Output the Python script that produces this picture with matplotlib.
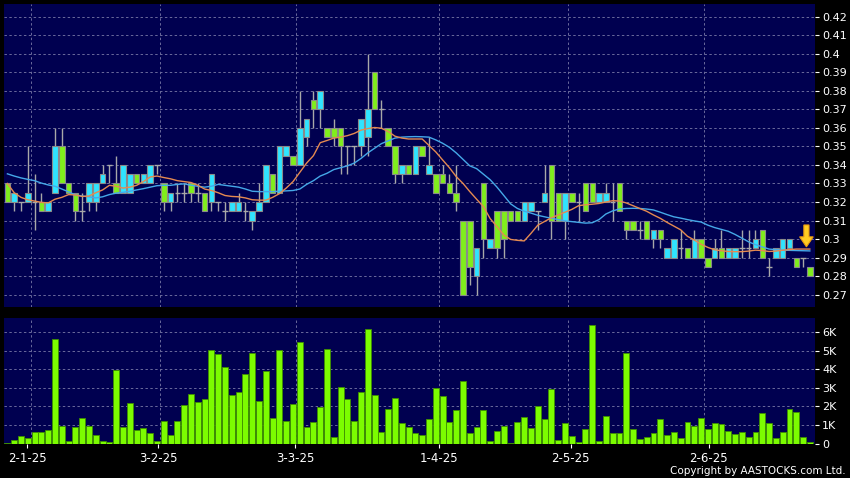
import matplotlib
matplotlib.use("Agg")
import matplotlib.pyplot as plt
from matplotlib.patches import Polygon

# ---------------- data ----------------
opens = [0.33, 0.32, 0.32, 0.32, 0.32, 0.32, 0.315, 0.325, 0.35, 0.33,
         0.325, 0.315, 0.32, 0.32, 0.33, 0.34, 0.33, 0.325, 0.325, 0.335,
         0.33, 0.33, 0.34, 0.33, 0.32, 0.325, 0.325, 0.33, 0.325, 0.325,
         0.32, 0.32, 0.315, 0.315, 0.315, 0.315, 0.31, 0.315, 0.32, 0.335,
         0.325, 0.345, 0.345, 0.34, 0.355, 0.375, 0.37, 0.36, 0.36, 0.36,
         0.35, 0.35, 0.35, 0.355, 0.39, 0.37, 0.36, 0.35, 0.335, 0.34,
         0.335, 0.35, 0.335, 0.335, 0.335, 0.33, 0.325, 0.31, 0.31, 0.28,
         0.33, 0.295, 0.315, 0.315, 0.315, 0.315, 0.31, 0.315, 0.315, 0.32,
         0.34, 0.325, 0.31, 0.325, 0.32, 0.33, 0.33, 0.32, 0.32, 0.32,
         0.33, 0.31, 0.31, 0.305, 0.31, 0.30, 0.305, 0.29, 0.29, 0.295,
         0.295, 0.29, 0.30, 0.29, 0.29, 0.295, 0.29, 0.29, 0.295, 0.295,
         0.295, 0.305, 0.285, 0.29, 0.29, 0.295, 0.29, 0.29, 0.285]
highs = [0.33, 0.325, 0.32, 0.35, 0.335, 0.325, 0.32, 0.36, 0.36, 0.33,
         0.325, 0.325, 0.33, 0.33, 0.34, 0.34, 0.345, 0.34, 0.335, 0.335,
         0.335, 0.34, 0.34, 0.33, 0.325, 0.33, 0.33, 0.33, 0.33, 0.325,
         0.335, 0.32, 0.32, 0.32, 0.325, 0.32, 0.315, 0.33, 0.34, 0.335,
         0.35, 0.35, 0.345, 0.38, 0.365, 0.38, 0.38, 0.36, 0.365, 0.36,
         0.35, 0.35, 0.365, 0.40, 0.39, 0.375, 0.36, 0.35, 0.34, 0.34,
         0.35, 0.35, 0.355, 0.335, 0.34, 0.335, 0.34, 0.31, 0.31, 0.295,
         0.33, 0.30, 0.315, 0.315, 0.315, 0.315, 0.32, 0.32, 0.315, 0.34,
         0.34, 0.325, 0.325, 0.325, 0.325, 0.33, 0.33, 0.325, 0.33, 0.33,
         0.33, 0.31, 0.31, 0.31, 0.31, 0.305, 0.305, 0.295, 0.30, 0.305,
         0.295, 0.305, 0.30, 0.29, 0.30, 0.305, 0.295, 0.295, 0.305, 0.305,
         0.305, 0.305, 0.29, 0.295, 0.30, 0.30, 0.29, 0.29, 0.285]
lows = [0.32, 0.315, 0.315, 0.32, 0.305, 0.315, 0.315, 0.325, 0.33, 0.325,
        0.31, 0.31, 0.315, 0.315, 0.33, 0.33, 0.325, 0.325, 0.325, 0.33,
        0.33, 0.33, 0.335, 0.315, 0.315, 0.32, 0.32, 0.32, 0.32, 0.315,
        0.315, 0.315, 0.31, 0.315, 0.315, 0.31, 0.305, 0.315, 0.32, 0.325,
        0.325, 0.345, 0.34, 0.34, 0.35, 0.36, 0.36, 0.355, 0.35, 0.335,
        0.335, 0.34, 0.345, 0.345, 0.37, 0.36, 0.35, 0.33, 0.33, 0.335,
        0.335, 0.345, 0.335, 0.325, 0.33, 0.325, 0.315, 0.27, 0.275, 0.27,
        0.29, 0.295, 0.29, 0.29, 0.31, 0.31, 0.31, 0.315, 0.305, 0.32,
        0.30, 0.31, 0.30, 0.32, 0.31, 0.315, 0.32, 0.32, 0.32, 0.31,
        0.315, 0.30, 0.305, 0.30, 0.30, 0.295, 0.295, 0.29, 0.29, 0.29,
        0.29, 0.29, 0.29, 0.285, 0.29, 0.29, 0.29, 0.29, 0.29, 0.29,
        0.295, 0.29, 0.28, 0.29, 0.29, 0.295, 0.285, 0.285, 0.28]
closes = [0.32, 0.325, 0.32, 0.325, 0.32, 0.315, 0.32, 0.35, 0.33, 0.325,
          0.315, 0.315, 0.33, 0.33, 0.335, 0.34, 0.325, 0.34, 0.335, 0.33,
          0.335, 0.34, 0.34, 0.32, 0.325, 0.325, 0.325, 0.325, 0.325, 0.315,
          0.335, 0.32, 0.315, 0.32, 0.32, 0.315, 0.315, 0.32, 0.34, 0.325,
          0.35, 0.35, 0.34, 0.36, 0.365, 0.37, 0.38, 0.355, 0.355, 0.35,
          0.35, 0.35, 0.365, 0.37, 0.37, 0.37, 0.35, 0.335, 0.34, 0.335,
          0.35, 0.345, 0.34, 0.325, 0.33, 0.325, 0.32, 0.27, 0.285, 0.295,
          0.30, 0.30, 0.295, 0.30, 0.31, 0.31, 0.32, 0.32, 0.315, 0.325,
          0.31, 0.31, 0.325, 0.32, 0.32, 0.315, 0.32, 0.325, 0.325, 0.32,
          0.315, 0.305, 0.305, 0.305, 0.30, 0.305, 0.30, 0.295, 0.30, 0.295,
          0.29, 0.30, 0.29, 0.285, 0.295, 0.29, 0.295, 0.295, 0.295, 0.295,
          0.30, 0.29, 0.285, 0.295, 0.30, 0.30, 0.285, 0.29, 0.28]
ma_short = [0.3300, 0.3250, 0.3225, 0.3212, 0.3205, 0.3198, 0.3195, 0.3215, 0.3225, 0.3240,
            0.3238, 0.3230, 0.3232, 0.3250, 0.3265, 0.3290, 0.3285, 0.3275, 0.3280, 0.3290,
            0.3310, 0.3335, 0.3340, 0.3332, 0.3325, 0.3315, 0.3310, 0.3305, 0.3290, 0.3270,
            0.3262, 0.3250, 0.3235, 0.3230, 0.3228, 0.3222, 0.3212, 0.3210, 0.3210, 0.3225,
            0.3245, 0.3275, 0.3310, 0.3360, 0.3410, 0.3450, 0.3520, 0.3532, 0.3545, 0.3550,
            0.3558, 0.3570, 0.3588, 0.3596, 0.3602, 0.3598, 0.3580, 0.3555, 0.3545, 0.3540,
            0.3540, 0.3540, 0.3505, 0.3470, 0.3427, 0.3385, 0.3337, 0.3300, 0.3256, 0.3215,
            0.3175, 0.3110, 0.3067, 0.3022, 0.2998, 0.2993, 0.2990, 0.3031, 0.3075, 0.3095,
            0.3115, 0.3130, 0.3145, 0.3160, 0.3180, 0.3185, 0.3188, 0.3192, 0.3200, 0.3207,
            0.3205, 0.3195, 0.3180, 0.3165, 0.3150, 0.3130, 0.3112, 0.3090, 0.3070, 0.3050,
            0.3015, 0.2995, 0.2972, 0.2955, 0.2942, 0.2937, 0.2933, 0.2932, 0.2932, 0.2935,
            0.2940, 0.2938, 0.2933, 0.2935, 0.2940, 0.2943, 0.2946, 0.2946, 0.2946]
ma_long = [0.3352, 0.3340, 0.3330, 0.3322, 0.3315, 0.3302, 0.3292, 0.3285, 0.3270, 0.3255,
           0.3238, 0.3232, 0.3228, 0.3222, 0.3228, 0.3240, 0.3248, 0.3252, 0.3258, 0.3265,
           0.3272, 0.3280, 0.3288, 0.3290, 0.3290, 0.3295, 0.3298, 0.3290, 0.3285, 0.3280,
           0.3285, 0.3295, 0.3290, 0.3285, 0.3280, 0.3270, 0.3258, 0.3256, 0.3256, 0.3256,
           0.3258, 0.3260, 0.3262, 0.3270, 0.3295, 0.3315, 0.3340, 0.3355, 0.3375, 0.3385,
           0.3395, 0.3410, 0.3435, 0.3465, 0.3490, 0.3515, 0.3530, 0.3545, 0.3550, 0.3552,
           0.3553, 0.3552, 0.3550, 0.3535, 0.3517, 0.3495, 0.3465, 0.3430, 0.3395, 0.3380,
           0.3350, 0.3320, 0.3280, 0.3235, 0.3190, 0.3165, 0.3150, 0.3140, 0.3128, 0.3120,
           0.3112, 0.3105, 0.3098, 0.3094, 0.3090, 0.3086, 0.3088, 0.3105, 0.3135, 0.3152,
           0.3162, 0.3165, 0.3166, 0.3165, 0.3162, 0.3157, 0.3145, 0.3132, 0.3120, 0.3113,
           0.3105, 0.3098, 0.3092, 0.3075, 0.3062, 0.3052, 0.3042, 0.3025, 0.3005, 0.2985,
           0.2970, 0.2958, 0.2946, 0.2943, 0.2940, 0.2939, 0.2938, 0.2937, 0.2936]
volume_k = [0.05, 0.18, 0.40, 0.27, 0.60, 0.60, 0.75, 5.64, 0.95, 0.13,
            0.88, 1.35, 0.97, 0.47, 0.13, 0.09, 3.96, 0.90, 2.16, 0.72,
            0.83, 0.54, 0.13, 1.22, 0.45, 1.24, 2.07, 2.67, 2.23, 2.38,
            5.06, 4.81, 4.14, 2.61, 2.79, 3.77, 4.90, 2.27, 3.89, 1.39,
            5.03, 1.19, 2.13, 5.50, 0.90, 1.17, 1.98, 5.10, 0.36, 3.06,
            2.38, 1.22, 2.77, 6.16, 2.61, 0.61, 1.84, 2.43, 1.08, 0.90,
            0.54, 0.45, 1.33, 2.99, 2.59, 1.17, 1.80, 3.37, 0.58, 0.88,
            1.80, 0.14, 0.67, 0.94, 0.02, 1.15, 1.44, 0.83, 2.00, 1.32,
            2.92, 0.18, 1.10, 0.40, 0.09, 0.76, 6.40, 0.13, 1.50, 0.54,
            0.56, 4.86, 0.77, 0.22, 0.36, 0.54, 1.30, 0.47, 0.61, 0.29,
            1.17, 0.94, 1.35, 0.79, 1.08, 1.06, 0.70, 0.50, 0.63, 0.36,
            0.61, 1.64, 1.12, 0.27, 0.61, 1.84, 1.68, 0.36, 0.09]
date_labels = ["2-1-25", "3-2-25", "3-3-25", "1-4-25", "2-5-25", "2-6-25"]
month_start_index = [4, 23, 43, 64, 83, 103]
price_ticks = [0.27, 0.28, 0.29, 0.30, 0.31, 0.32, 0.33, 0.34, 0.35, 0.36,
               0.37, 0.38, 0.39, 0.40, 0.41, 0.42]
volume_ticks_k = [0, 1, 2, 3, 4, 5, 6]

# ---------------- style ----------------
BG = "#000050"
GRID = "#6a6a9c"
UP = "#30e4ff"
DOWN = "#80ee1c"
EDGE = "#8a8a8a"
WICK = "#a8a8a8"
VOL = "#7cfc00"
VOL_EDGE = "#3f8f00"

W, H = 850, 478
fig = plt.figure(figsize=(W / 100, H / 100), dpi=100, facecolor="black")
axp = fig.add_axes([4 / W, 1 - 306.5 / H, 811 / W, 302.5 / H], facecolor=BG)
axv = fig.add_axes([4 / W, 1 - 443.5 / H, 811 / W, 125.2 / H], facecolor=BG)

n = len(closes)
xs = list(range(n))
xlo, xhi = -0.5, 118.76

for ax in (axp, axv):
    ax.set_xlim(xlo, xhi)
    for s in ax.spines.values():
        s.set_visible(False)
    for m in month_start_index:
        ax.axvline(m - 0.5, color=GRID, lw=0.7, ls=(0, (2.5, 2.5)), zorder=0)
    ax.yaxis.tick_right()
    ax.tick_params(axis="y", colors="white", labelcolor="white", length=3,
                   width=0.8, pad=2, labelsize=8)

# ---- price panel ----
axp.set_ylim(0.2636, 0.42685)
axp.set_yticks(price_ticks)
axp.set_yticklabels(["%g" % t for t in price_ticks])
for t in price_ticks:
    axp.axhline(t, color=GRID, lw=0.7, ls=(0, (2.5, 2.5)), zorder=0)
axp.set_xticks([])

bw = 0.8
for i in xs:
    o, h, l, c = opens[i], highs[i], lows[i], closes[i]
    axp.vlines(i, l, h, color=WICK, lw=1.0, zorder=2)
    if abs(c - o) < 1e-9:
        axp.hlines(o, i - bw / 2, i + bw / 2, color=WICK, lw=1.0, zorder=3)
    else:
        col = UP if c > o else DOWN
        axp.bar(i, abs(c - o), bottom=min(o, c), width=bw, color=col,
                edgecolor=EDGE, linewidth=0.8, zorder=3)

axp.plot(xs, ma_long, color="#45a8e8", lw=1.0, zorder=4)
axp.plot(xs, ma_short, color="#e58a50", lw=1.0, zorder=4)

# yellow down arrow at the last bars
ax_c = 117.5
arrow = Polygon([(ax_c - 0.38, 0.3076), (ax_c + 0.38, 0.3076), (ax_c + 0.38, 0.3012),
                 (ax_c + 1.0, 0.3012), (ax_c, 0.2958), (ax_c - 1.0, 0.3012),
                 (ax_c - 0.38, 0.3012)], closed=True, facecolor="#ffcc22",
                edgecolor="#e89a10", lw=0.8, zorder=6)
axp.add_patch(arrow)

# ---- volume panel ----
axv.set_ylim(0, 6.76)
axv.set_yticks(volume_ticks_k)
axv.set_yticklabels(["0" if t == 0 else "%dK" % t for t in volume_ticks_k])
for t in volume_ticks_k[1:]:
    axv.axhline(t, color=GRID, lw=0.7, ls=(0, (2.5, 2.5)), zorder=0)
axv.bar(xs, volume_k, width=0.86, color=VOL, edgecolor=VOL_EDGE,
        linewidth=0.6, zorder=3)

tick_pos = [2.93, 22.2, 42.34, 63.5, 82.84, 103.13]
axv.set_xticks(tick_pos)
axv.set_xticklabels(date_labels)
axv.tick_params(axis="x", colors="white", labelcolor="white", length=3,
                width=0.8, pad=3, labelsize=8.5)

fig.text(846 / W, 1 - 471 / H, "Copyright by AASTOCKS.com Ltd.", color="white",
         fontsize=7.5, ha="right", va="center")

fig.savefig("out.png", dpi=100, facecolor="black")
